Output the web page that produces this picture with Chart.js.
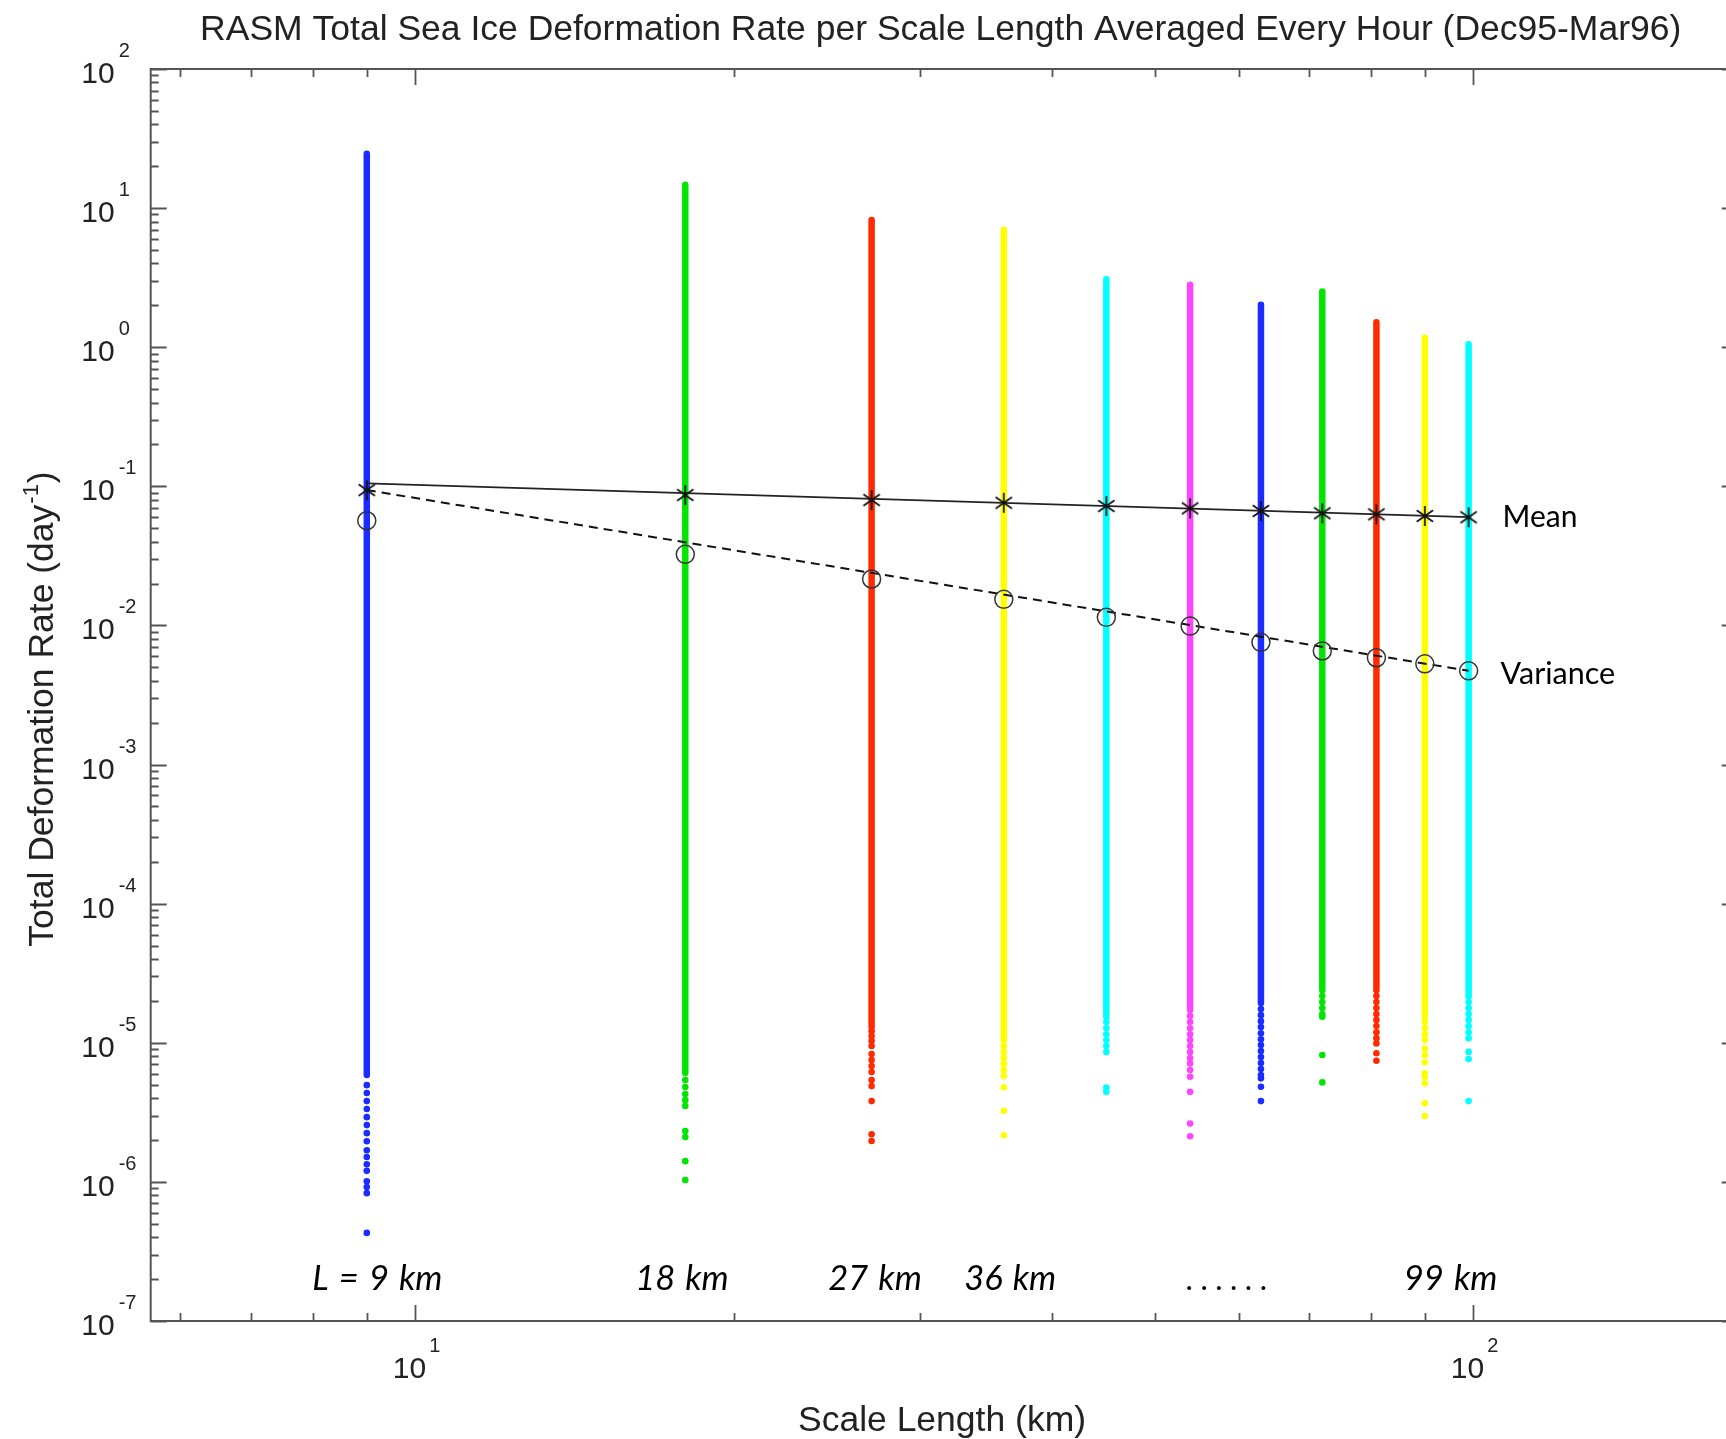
<!DOCTYPE html>
<html>
<head>
<meta charset="utf-8">
<title>RASM Total Sea Ice Deformation Rate per Scale Length</title>
<script src="https://cdn.jsdelivr.net/npm/chart.js@4.4.1/dist/chart.umd.min.js"></script>
<style>
  html, body { margin: 0; padding: 0; background: #fff; overflow: hidden; }
  canvas { display: block; }
</style>
</head>
<body>
<canvas id="chart" width="1760" height="1439"></canvas>
<script>
// scale lengths (km) of the eleven strips and their colours
const scaleLengths = [9, 18, 27, 36, 45, 54, 63, 72, 81, 90, 99];
const stripColors = ['#1a2cff', '#00e600', '#ff2a00', '#ffff00', '#00ffff', '#ff44ff',
                     '#1a2cff', '#00e600', '#ff2a00', '#ffff00', '#00ffff'];

// top and bottom of the densely packed part of every strip (day^-1)
const stripTop = [24.6, 14.75, 8.23, 6.98, 3.08, 2.81, 2.02, 2.52, 1.51, 1.17, 1.05];
const stripBottom = [5.86e-6, 6.06e-6, 1.30e-5, 1.046e-5, 1.54e-5, 1.72e-5, 1.93e-5, 2.39e-5, 2.39e-5, 1.54e-5, 2.14e-5];

// single points below the dense part of each strip
const dots9km = [4.96e-6, 4.35e-6, 3.81e-6, 3.34e-6, 2.92e-6, 2.56e-6, 2.24e-6, 1.96e-6,
                 1.69e-6, 1.51e-6, 1.34e-6, 1.20e-6, 1.01e-6, 9.2e-7, 8.3e-7, 4.3e-7];
const dots18km = [5.39e-6, 4.80e-6, 4.28e-6, 3.87e-6, 3.51e-6, 2.32e-6, 2.10e-6, 1.41e-6, 1.03e-6];
const dots27km = [1.21e-5, 1.12e-5, 1.03e-5, 9.47e-6, 8.29e-6, 7.51e-6, 6.80e-6, 6.16e-6,
                  5.39e-6, 4.88e-6, 3.81e-6, 2.20e-6, 1.97e-6];
const dots36km = [9.47e-6, 8.57e-6, 7.76e-6, 7.03e-6, 6.36e-6, 5.76e-6, 4.78e-6, 3.24e-6, 2.16e-6];
const dots45km = [1.41e-5, 1.27e-5, 1.15e-5, 1.046e-5, 9.47e-6, 8.6e-6, 4.77e-6, 4.44e-6];
const dots54km = [1.56e-5, 1.41e-5, 1.27e-5, 1.15e-5, 1.046e-5, 9.47e-6, 8.57e-6, 7.76e-6,
                  7.11e-6, 6.36e-6, 5.70e-6, 4.44e-6, 2.63e-6, 2.13e-6];
const dots63km = [1.75e-5, 1.58e-5, 1.43e-5, 1.30e-5, 1.17e-5, 1.06e-5, 9.63e-6, 8.72e-6,
                  7.89e-6, 7.15e-6, 6.47e-6, 5.86e-6, 5.55e-6, 4.83e-6, 3.81e-6];
const dots72km = [2.17e-5, 1.96e-5, 1.78e-5, 1.61e-5, 1.54e-5, 8.16e-6, 5.19e-6];
const dots81km = [2.17e-5, 1.96e-5, 1.78e-5, 1.61e-5, 1.46e-5, 1.32e-5, 1.19e-5, 1.08e-5,
                  9.9e-6, 8.4e-6, 7.42e-6];
const dots90km = [1.41e-5, 1.27e-5, 1.15e-5, 1.046e-5, 9.1e-6, 8.16e-6, 7.23e-6, 6.03e-6,
                  5.70e-6, 5.11e-6, 3.67e-6, 2.97e-6];
const dots99km = [1.96e-5, 1.78e-5, 1.61e-5, 1.46e-5, 1.32e-5, 1.19e-5, 1.08e-5, 8.6e-6, 7.63e-6, 3.81e-6];
const stripDots = [dots9km, dots18km, dots27km, dots36km, dots45km, dots54km,
                   dots63km, dots72km, dots81km, dots90km, dots99km];

// mean (asterisks) and variance (circles) per scale length
const meanRate = [0.094, 0.0866, 0.0797, 0.0762, 0.0722, 0.0695, 0.0665, 0.0640, 0.0629, 0.0612, 0.0599];
const varianceRate = [0.0566, 0.03245, 0.02157, 0.01541, 0.01143, 0.0099, 0.00756, 0.00655, 0.00586, 0.0053, 0.00472];

// fitted lines, end points at 9 and 99 km
const fitLengths = [9, 99];
const meanFit = [0.1051, 0.0600];
const varianceFit = [0.094, 0.00472];

// axis decades and tick label exponents
const xDecades = [0, 1, 2];
const yDecades = [-7, -6, -5, -4, -3, -2, -1, 0, 1, 2];
const xLabelExponents = ['1', '2'];
const yLabelExponents = ['-7', '-6', '-5', '-4', '-3', '-2', '-1', '0', '1', '2'];

// annotations along the bottom, centred on these scale lengths
const lengthLabels = ['L = 9 km', '18 km', '27 km', '36 km', '......', '99 km'];
const lengthLabelAt = [9.21, 17.87, 27.2, 36.5, 58.9, 95.2];

const SANS = '"Liberation Sans", Arial, Helvetica, sans-serif';
const GILL = 'Lato, "Open Sans", sans-serif';

// IDL style asterisk marker
function makeAsterisk() {
  const c = document.createElement('canvas');
  c.width = 22; c.height = 22;
  const g = c.getContext('2d');
  g.strokeStyle = '#111';
  g.lineWidth = 1.7;
  const r = 10;
  [90, 35, -35].forEach(deg => {
    const t = deg * Math.PI / 180;
    g.beginPath();
    g.moveTo(11 - r * Math.cos(t), 11 - r * Math.sin(t));
    g.lineTo(11 + r * Math.cos(t), 11 + r * Math.sin(t));
    g.stroke();
  });
  return c;
}

const datasets = [];

// markers on top
datasets.push({
  data: scaleLengths.map((L, i) => ({ x: L, y: meanRate[i] })),
  pointStyle: makeAsterisk(),
  order: 0
});
datasets.push({
  data: scaleLengths.map((L, i) => ({ x: L, y: varianceRate[i] })),
  pointStyle: 'circle',
  pointRadius: 9,
  pointBorderColor: '#333',
  pointBorderWidth: 1.5,
  pointBackgroundColor: 'rgba(0,0,0,0)',
  order: 0
});

// fitted lines
datasets.push({
  data: fitLengths.map((L, i) => ({ x: L, y: meanFit[i] })),
  showLine: true, borderColor: '#222', borderWidth: 1.8, pointRadius: 0, order: 1
});
datasets.push({
  data: fitLengths.map((L, i) => ({ x: L, y: varianceFit[i] })),
  showLine: true, borderColor: '#111', borderWidth: 2, borderDash: [9, 6], pointRadius: 0, order: 1
});

// coloured strips
scaleLengths.forEach((L, i) => {
  datasets.push({
    data: [{ x: L, y: stripTop[i] }, { x: L, y: stripBottom[i] }],
    showLine: true,
    borderColor: stripColors[i],
    borderWidth: 6.5,
    borderCapStyle: 'round',
    pointRadius: 0,
    order: 2
  });
  datasets.push({
    data: stripDots[i].map(v => ({ x: L, y: v })),
    pointRadius: 3.3,
    pointBorderWidth: 0,
    pointBackgroundColor: stripColors[i],
    order: 2
  });
});

function drawPower(ctx, exp, xBase, yBase, xExp, yExp, align) {
  ctx.font = '30px ' + SANS;
  ctx.textAlign = align;
  ctx.fillText('10', xBase, yBase);
  ctx.font = '20px ' + SANS;
  ctx.textAlign = 'left';
  ctx.fillText(exp, xExp, yExp);
}

const idlAxes = {
  id: 'idlAxes',
  afterDraw(chart) {
    const { ctx, chartArea: a } = chart;
    const x = chart.scales.x, y = chart.scales.y;
    ctx.save();

    // frame
    ctx.strokeStyle = '#555';
    ctx.lineWidth = 2;
    ctx.strokeRect(a.left, a.top, a.right - a.left, a.bottom - a.top);

    // inward ticks, all four sides
    ctx.lineWidth = 1.8;
    ctx.beginPath();
    xDecades.forEach(d => {
      for (let m = 1; m <= 9; m++) {
        const v = m * Math.pow(10, d);
        if (v < x.min || v > x.max) continue;
        const px = Math.round(x.getPixelForValue(v)) + 0.5;
        const len = m === 1 ? 16 : 8;
        ctx.moveTo(px, a.bottom); ctx.lineTo(px, a.bottom - len);
        ctx.moveTo(px, a.top); ctx.lineTo(px, a.top + len);
      }
    });
    yDecades.forEach(d => {
      for (let m = 1; m <= 9; m++) {
        const v = m * Math.pow(10, d);
        if (v < y.min * 0.999 || v > y.max * 1.001) continue;
        const py = Math.round(y.getPixelForValue(v)) + 0.5;
        const len = m === 1 ? 16 : 8;
        ctx.moveTo(a.left, py); ctx.lineTo(a.left + len, py);
        ctx.moveTo(a.right, py); ctx.lineTo(a.right - len, py);
      }
    });
    ctx.stroke();

    // tick labels
    ctx.fillStyle = '#222';
    ctx.textBaseline = 'alphabetic';
    yDecades.forEach((d, i) => {
      const py = y.getPixelForValue(Math.pow(10, d));
      drawPower(ctx, yLabelExponents[i], a.left - 36, py + 14, a.left - 32, py - 12, 'right');
    });
    xDecades.slice(1).forEach((d, i) => {
      const px = x.getPixelForValue(Math.pow(10, d));
      drawPower(ctx, xLabelExponents[i], px + 11, a.bottom + 57, px + 14, a.bottom + 31, 'right');
    });

    // title and axis titles
    ctx.textAlign = 'center';
    ctx.font = '35.5px ' + SANS;
    ctx.fillText('RASM Total Sea Ice Deformation Rate per Scale Length Averaged Every Hour (Dec95-Mar96)', 940.7, 40);
    ctx.font = '35.5px ' + SANS;
    ctx.fillText('Scale Length (km)', 942, 1431);

    ctx.save();
    ctx.translate(53, 710);
    ctx.rotate(-Math.PI / 2);
    const main = 'Total Deformation Rate (day';
    ctx.font = '35.5px ' + SANS;
    const w1 = ctx.measureText(main).width, w3 = ctx.measureText(')').width;
    ctx.font = '22px ' + SANS;
    const w2 = ctx.measureText('-1').width;
    let cx = -(w1 + w2 + w3) / 2;
    ctx.textAlign = 'left';
    ctx.font = '35.5px ' + SANS;
    ctx.fillText(main, cx, 0);
    ctx.font = '22px ' + SANS;
    ctx.fillText('-1', cx + w1 + 1, -15);
    ctx.font = '35.5px ' + SANS;
    ctx.fillText(')', cx + w1 + w2 + 2, 0);
    ctx.restore();

    // scale length annotations
    ctx.fillStyle = '#000';
    ctx.textAlign = 'center';
    lengthLabels.forEach((t, i) => {
      const px = x.getPixelForValue(lengthLabelAt[i]);
      if (t === '......') {
        ctx.font = '31px ' + GILL;
        ctx.letterSpacing = '7.5px';
        ctx.wordSpacing = '0px';
      } else {
        ctx.font = 'italic 34.5px ' + GILL;
        ctx.letterSpacing = '0px';
        ctx.wordSpacing = '2px';
      }
      ctx.fillText(t, px, a.bottom - 31);
    });
    ctx.letterSpacing = '0px';
    ctx.wordSpacing = '0px';

    // series labels
    ctx.textAlign = 'left';
    ctx.textBaseline = 'middle';
    ctx.font = '30px ' + GILL;
    const xEnd = x.getPixelForValue(scaleLengths[scaleLengths.length - 1]);
    ctx.fillText('Mean', xEnd + 34, y.getPixelForValue(meanRate[meanRate.length - 1]));
    ctx.font = '30.5px ' + GILL;
    ctx.fillText('Variance', xEnd + 32, y.getPixelForValue(varianceRate[varianceRate.length - 1]) + 3);

    ctx.restore();
  }
};

new Chart(document.getElementById('chart'), {
  type: 'scatter',
  data: { datasets },
  options: {
    responsive: false,
    animation: false,
    devicePixelRatio: 1,
    layout: { padding: { left: 150.7, top: 69, right: 22.25, bottom: 118 } },
    scales: {
      x: { type: 'logarithmic', min: Math.pow(10, 0.75), max: Math.pow(10, 2.25), display: false },
      y: { type: 'logarithmic', min: 1e-7, max: 100, display: false }
    },
    plugins: { legend: { display: false }, tooltip: { enabled: false } },
    elements: { point: { hoverRadius: 0 } }
  },
  plugins: [idlAxes]
});
</script>
</body>
</html>
